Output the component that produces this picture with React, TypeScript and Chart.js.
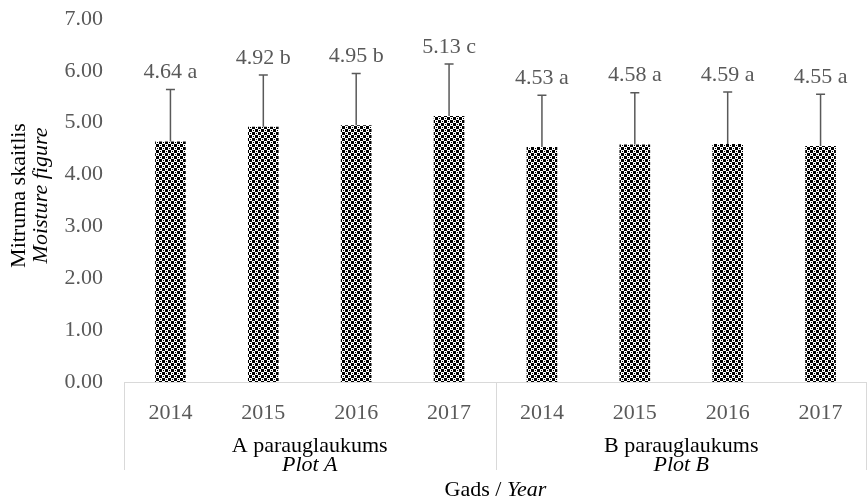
import { useEffect, useRef } from "react";
import { Chart, registerables } from "chart.js";

Chart.register(...registerables);

const years = ["2014", "2015", "2016", "2017", "2014", "2015", "2016", "2017"];
const moisture = [4.64, 4.92, 4.95, 5.13, 4.53, 4.58, 4.59, 4.55];
const errors = [1.0, 1.0, 1.0, 1.0, 1.0, 1.0, 1.0, 1.0];
const letters = ["a", "b", "b", "c", "a", "a", "a", "a"];
const groupsLv = ["A parauglaukums", "B parauglaukums"];
const groupsEn = ["Plot A", "Plot B"];
const groupSize = 4;
const yTitleLv = "Mitruma skaitlis";
const yTitleEn = "Moisture figure";
const xTitleLv = "Gads / ";
const xTitleEn = "Year";

const FONT = "'Liberation Serif', 'Times New Roman', serif";
const GRAY = "#595959";
const LINE = "#d9d9d9";

function makePattern(): CanvasPattern | string {
  const c = document.createElement("canvas");
  c.width = 6;
  c.height = 6;
  const g = c.getContext("2d");
  if (!g) return "#000";
  g.fillStyle = "#fff";
  g.fillRect(0, 0, 6, 6);
  g.fillStyle = "#000";
  g.fillRect(0, 0, 3, 3);
  g.fillRect(3, 3, 3, 3);
  g.fillRect(4, 1, 1, 1);
  g.fillRect(1, 4, 1, 1);
  const p = g.createPattern(c, "repeat");
  return p || "#000";
}

const errorBarPlugin = {
  id: "errorBars",
  afterDatasetsDraw(chart: any) {
    const ctx = chart.ctx;
    const meta = chart.getDatasetMeta(0);
    const ys = chart.scales.y;
    ctx.save();
    meta.data.forEach((bar: any, i: number) => {
      const top = ys.getPixelForValue(moisture[i] + errors[i]);
      ctx.strokeStyle = GRAY;
      ctx.lineWidth = 1.5;
      ctx.beginPath();
      ctx.moveTo(bar.x, bar.y);
      ctx.lineTo(bar.x, top);
      ctx.moveTo(bar.x - 4.5, top);
      ctx.lineTo(bar.x + 4.5, top);
      ctx.stroke();
      ctx.fillStyle = GRAY;
      ctx.font = `22px ${FONT}`;
      ctx.textAlign = "center";
      ctx.textBaseline = "middle";
      ctx.fillText(`${moisture[i].toFixed(2)} ${letters[i]}`, bar.x, top - 17);
    });
    ctx.restore();
  },
};

const groupAxisPlugin = {
  id: "groupAxis",
  afterDraw(chart: any) {
    const ctx = chart.ctx;
    const xs = chart.scales.x;
    const area = chart.chartArea;
    const bottom = area.bottom;
    ctx.save();
    ctx.strokeStyle = LINE;
    ctx.lineWidth = 1;
    const seps: number[] = [area.left];
    for (let g = 1; g < groupsLv.length; g++) {
      const a = xs.getPixelForValue(g * groupSize - 1);
      const b = xs.getPixelForValue(g * groupSize);
      seps.push((a + b) / 2);
    }
    seps.push(area.right - 1);
    seps.forEach((x) => {
      const px = Math.round(x) + 0.5;
      ctx.beginPath();
      ctx.moveTo(px, bottom);
      ctx.lineTo(px, bottom + 88);
      ctx.stroke();
    });
    ctx.fillStyle = "#000";
    ctx.textAlign = "center";
    ctx.textBaseline = "middle";
    groupsLv.forEach((name, g) => {
      const a = xs.getPixelForValue(g * groupSize);
      const b = xs.getPixelForValue(g * groupSize + groupSize - 1);
      const cx = (a + b) / 2;
      ctx.font = `22px ${FONT}`;
      ctx.fillText(name, cx, bottom + 64);
      ctx.font = `italic 22px ${FONT}`;
      ctx.fillText(groupsEn[g], cx, bottom + 83);
    });
    // x title
    ctx.font = `22px ${FONT}`;
    const w1 = ctx.measureText(xTitleLv).width;
    ctx.font = `italic 22px ${FONT}`;
    const w2 = ctx.measureText(xTitleEn).width;
    const cx = (area.left + area.right) / 2;
    const start = cx - (w1 + w2) / 2;
    ctx.textAlign = "left";
    ctx.font = `22px ${FONT}`;
    ctx.fillText(xTitleLv, start, bottom + 108);
    ctx.font = `italic 22px ${FONT}`;
    ctx.fillText(xTitleEn, start + w1, bottom + 108);
    // y title
    const cy = (area.top + area.bottom) / 2 - 5;
    ctx.save();
    ctx.translate(19, cy);
    ctx.rotate(-Math.PI / 2);
    ctx.textAlign = "center";
    ctx.font = `22px ${FONT}`;
    ctx.fillText(yTitleLv, 0, 0);
    ctx.restore();
    ctx.save();
    ctx.translate(41, cy);
    ctx.rotate(-Math.PI / 2);
    ctx.textAlign = "center";
    ctx.font = `italic 22px ${FONT}`;
    ctx.fillText(yTitleEn, 0, 0);
    ctx.restore();
    ctx.restore();
  },
};

export default function App() {
  const ref = useRef<HTMLCanvasElement | null>(null);
  useEffect(() => {
    document.body.style.margin = "0";
    const canvas = ref.current;
    if (!canvas) return;
    const chart = new Chart(canvas, {
      type: "bar",
      data: {
        labels: years,
        datasets: [
          {
            data: moisture,
            backgroundColor: makePattern() as any,
            borderWidth: 0,
            categoryPercentage: 1,
            barPercentage: 0.33,
          },
        ],
      },
      options: {
        responsive: false,
        animation: false,
        layout: { padding: { top: 19, left: 0, right: 0, bottom: 0 } },
        plugins: { legend: { display: false }, tooltip: { enabled: false } },
        scales: {
          x: {
            grid: { display: false, drawTicks: false },
            border: { display: true, color: LINE, width: 1 },
            ticks: { color: GRAY, font: { family: FONT, size: 22 }, padding: 18, maxRotation: 0, autoSkip: false },
            afterFit: (s: any) => {
              s.height = 120;
              s.paddingLeft = 0;
              s.paddingRight = 0;
            },
          },
          y: {
            min: 0,
            max: 7,
            grid: { display: false, drawTicks: false },
            border: { display: false },
            ticks: {
              stepSize: 1,
              color: GRAY,
              font: { family: FONT, size: 22 },
              padding: 21,
              callback: (v: any) => Number(v).toFixed(2),
            },
            afterFit: (s: any) => {
              s.width = 124;
              s.paddingTop = 0;
              s.paddingBottom = 0;
            },
          },
        },
      },
      plugins: [errorBarPlugin, groupAxisPlugin],
    });
    return () => chart.destroy();
  }, []);
  return <canvas ref={ref} width={867} height={502} style={{ display: "block" }} />;
}
